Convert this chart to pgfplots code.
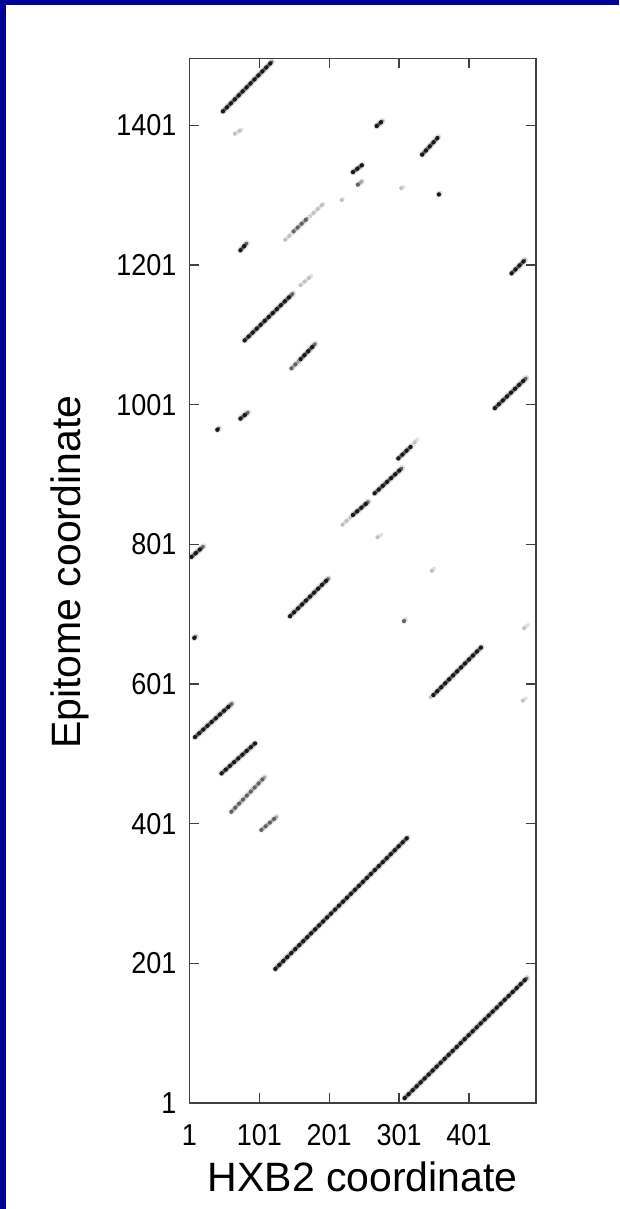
\documentclass[border=0pt]{standalone}
\usepackage{pgfplots}
\pgfplotsset{compat=1.18}
\usepackage{fontspec}
\setmainfont{Liberation Sans}
\definecolor{navy}{RGB}{0,0,150}
\pgfplotsset{
 dk/.style={no markers, draw=black!62, line width=3.3pt, line cap=round, preaction={draw=black!14, line width=6.2pt, line cap=round}, postaction={draw=black!90, line width=4.3pt, dash pattern=on 0.01pt off 5.6pt, line cap=round}},
 md/.style={no markers, draw=black!35, line width=3.2pt, line cap=round, preaction={draw=black!8, line width=6pt, line cap=round}, postaction={draw=black!62, line width=4.1pt, dash pattern=on 0.01pt off 5.6pt, line cap=round}},
 lt/.style={no markers, draw=black!12, line width=3.6pt, line cap=round, postaction={draw=black!24, line width=4.0pt, dash pattern=on 0.01pt off 5.6pt, line cap=round}},
}
\begin{document}
\begin{tikzpicture}
\useasboundingbox (0,0) rectangle (619pt,1209pt);
\fill[navy] (0,0) rectangle (619pt,1209pt);
\fill[white] (6pt,0) rectangle (619pt,1204pt);
\begin{axis}[
 at={(189.4pt,106pt)}, anchor=south west,
 scale only axis, width=346.6pt, height=1044.7pt,
 xmin=1, xmax=497, ymin=1, ymax=1497,
 xtick={1,101,201,301,401}, xticklabels={1,101,201,301,401},
 ytick={1,201,401,601,801,1001,1201,1401},
 yticklabels={1,201,401,601,801,1001,1201,1401},
 tick align=inside, major tick length=10pt,
 xtick pos=both, ytick pos=both,
 axis on top,
 axis line style={line width=1.5pt, black!75},
 every tick/.style={line width=1.2pt, black!75},
 ticklabel style={font=\fontsize{27}{27}\selectfont},
 xticklabel style={anchor=north, inner sep=0pt, yshift=-21pt, yscale=1.12},
 yticklabel style={anchor=east, inner sep=0pt, xshift=-12.7pt, yscale=1.12},
 xlabel={HXB2 coordinate}, ylabel={Epitome coordinate},
 label style={font=\fontsize{41}{41}\selectfont},
 xlabel style={at={(axis description cs:0.5,-0.0848)}, anchor=base},
 ylabel style={at={(axis description cs:-0.3128,0.508)}, anchor=base},
]
% light features
\addplot[lt] coordinates {(66,1389) (76,1395)};
\addplot[lt] coordinates {(219,1294) (221,1296)};
\addplot[lt] coordinates {(304,1311) (308,1313)};
\addplot[lt] coordinates {(138,1237) (193,1289)};
\addplot[lt] coordinates {(160,1172) (176,1186)};
\addplot[lt] coordinates {(220,829) (235,843)};
\addplot[lt] coordinates {(318,941) (328,952)};
\addplot[lt] coordinates {(348,763) (352,767)};
\addplot[lt] coordinates {(480,681) (486,686)};
\addplot[lt] coordinates {(478,577) (483,581)};
\addplot[lt] coordinates {(270,811) (276,815)};
\addplot[lt] coordinates {(346,582) (350,586)};
% medium features
\addplot[md] coordinates {(150,1249) (170,1268)};
\addplot[md] coordinates {(242,1316) (248,1321)};
\addplot[md] coordinates {(61,418) (109,468)};
\addplot[md] coordinates {(104,392) (126,411)};
\addplot[md] coordinates {(308,691) (310,693)};
\addplot[md] coordinates {(147,1053) (160,1066)};
% dark features
\addplot[dk] coordinates {(49,1421) (119,1492)};
\addplot[dk] coordinates {(269,1400) (277,1407)};
\addplot[dk] coordinates {(334,1359) (357,1384)};
\addplot[dk] coordinates {(235,1334) (248,1344)};
\addplot[dk] coordinates {(358,1302) (359,1303)};
\addplot[dk] coordinates {(74,1222) (83,1232)};
\addplot[dk] coordinates {(462,1189) (481,1208)};
\addplot[dk] coordinates {(80,1093) (149,1160)};
\addplot[dk] coordinates {(160,1066) (181,1088)};
\addplot[dk] coordinates {(438,996) (483,1039)};
\addplot[dk] coordinates {(41,965) (43,967)};
\addplot[dk] coordinates {(74,981) (85,990)};
\addplot[dk] coordinates {(235,843) (257,862)};
\addplot[dk] coordinates {(266,874) (305,910)};
\addplot[dk] coordinates {(300,924) (318,941)};
\addplot[dk] coordinates {(4,783) (21,798)};
\addplot[dk] coordinates {(145,698) (200,752)};
\addplot[dk] coordinates {(8,667) (10,669)};
\addplot[dk] coordinates {(350,585) (419,654)};
\addplot[dk] coordinates {(9,525) (62,573)};
\addplot[dk] coordinates {(47,473) (95,516)};
\addplot[dk] coordinates {(124,193) (313,381)};
\addplot[dk] coordinates {(309,8) (484,180)};
\end{axis}
\end{tikzpicture}
\end{document}
